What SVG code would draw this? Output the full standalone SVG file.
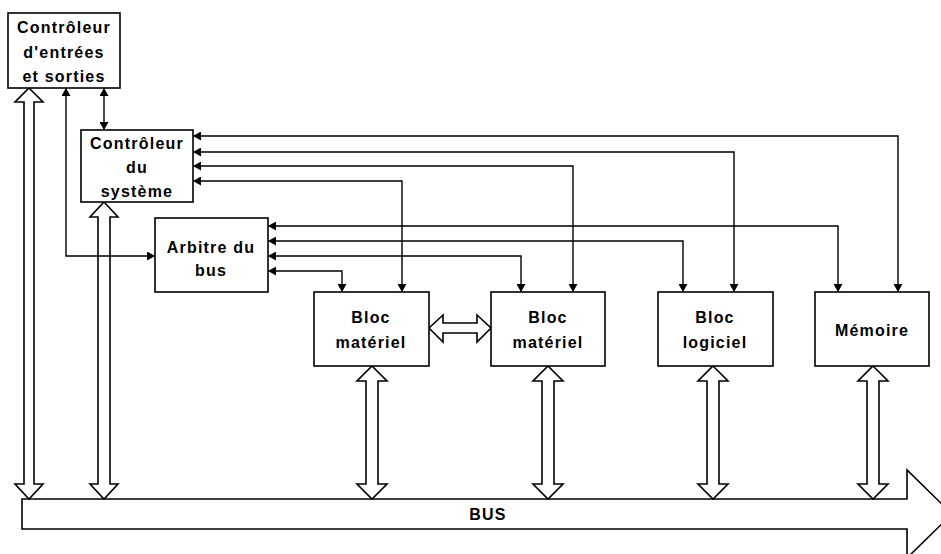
<svg xmlns="http://www.w3.org/2000/svg" width="941" height="554" viewBox="0 0 941 554">
<style>
.box{fill:#fff;stroke:#000;stroke-width:1.6}
.t{font-family:"Liberation Sans",Arial,sans-serif;font-weight:bold;font-size:16px;letter-spacing:1.2px;text-anchor:middle;fill:#000}
.c{fill:none;stroke:#000;stroke-width:1.4;marker-start:url(#ah);marker-end:url(#ah)}
.h{fill:#fff;stroke:#000;stroke-width:1.6;stroke-linejoin:miter}
</style>
<defs>
<marker id="ah" viewBox="0 0 8 9" refX="8" refY="4.5" markerWidth="8" markerHeight="9" markerUnits="userSpaceOnUse" orient="auto-start-reverse">
<path d="M0,0 L8,4.5 L0,9 Z" fill="#000"/>
</marker>
</defs>
<g id="bus">
<path class="h" d="M22,499 L907,499 L907,470 L952,514 L907,558 L907,529 L22,529 Z"/>
<text class="t" x="488" y="520">BUS</text>
</g>
<g id="bus-links">
<path class="h" d="M29,88 L43,102 L34,102 L34,484 L43,484 L29,499 L15,484 L24,484 L24,102 L15,102 Z"/>
<path class="h" d="M104,202 L118,217 L110,217 L110,484 L118,484 L104,499 L90,484 L98,484 L98,217 L90,217 Z"/>
<path class="h" d="M372,366 L387,381 L378,381 L378,484 L387,484 L372,499 L357,484 L366,484 L366,381 L357,381 Z"/>
<path class="h" d="M548,366 L563,381 L554,381 L554,484 L563,484 L548,499 L533,484 L542,484 L542,381 L533,381 Z"/>
<path class="h" d="M713,366 L728,381 L719,381 L719,484 L728,484 L713,499 L698,484 L707,484 L707,381 L698,381 Z"/>
<path class="h" d="M873,366 L888,381 L879,381 L879,484 L888,484 L873,499 L858,484 L867,484 L867,381 L858,381 Z"/>
<path class="h" d="M429,328 L443,315 L443,323 L477,323 L477,315 L491,328 L477,342 L477,333 L443,333 L443,342 Z"/>
</g>
<g id="connectors">
<path class="c" d="M104,88 V130"/>
<path class="c" d="M66,88 V256 H155"/>
<path class="c" d="M193,136 H898 V292"/>
<path class="c" d="M193,152 H734 V292"/>
<path class="c" d="M193,166 H573 V292"/>
<path class="c" d="M193,181 H402 V292"/>
<path class="c" d="M268,226 H838 V292"/>
<path class="c" d="M268,241 H683 V292"/>
<path class="c" d="M268,256 H521 V292"/>
<path class="c" d="M268,271 H342 V292"/>
</g>
<g id="ctrl-es">
<rect class="box" x="8" y="13" width="112" height="75"/>
<text class="t" x="64" y="33">Contrôleur</text>
<text class="t" x="64" y="58">d'entrées</text>
<text class="t" x="64" y="82">et sorties</text>
</g>
<g id="ctrl-sys">
<rect class="box" x="81" y="130" width="112" height="72"/>
<text class="t" x="137" y="149">Contrôleur</text>
<text class="t" x="137" y="173">du</text>
<text class="t" x="137" y="197">système</text>
</g>
<g id="arbitre">
<rect class="box" x="155" y="218" width="113" height="74"/>
<text class="t" x="211" y="253">Arbitre du</text>
<text class="t" x="211" y="276">bus</text>
</g>
<g id="bloc-mat-1">
<rect class="box" x="314" y="292" width="115" height="74"/>
<text class="t" x="371" y="323">Bloc</text>
<text class="t" x="371" y="348">matériel</text>
</g>
<g id="bloc-mat-2">
<rect class="box" x="491" y="292" width="114" height="74"/>
<text class="t" x="548" y="323">Bloc</text>
<text class="t" x="548" y="348">matériel</text>
</g>
<g id="bloc-log">
<rect class="box" x="658" y="292" width="115" height="74"/>
<text class="t" x="715" y="323">Bloc</text>
<text class="t" x="715" y="348">logiciel</text>
</g>
<g id="memoire">
<rect class="box" x="815" y="292" width="114" height="74"/>
<text class="t" x="872" y="336">Mémoire</text>
</g>
</svg>
